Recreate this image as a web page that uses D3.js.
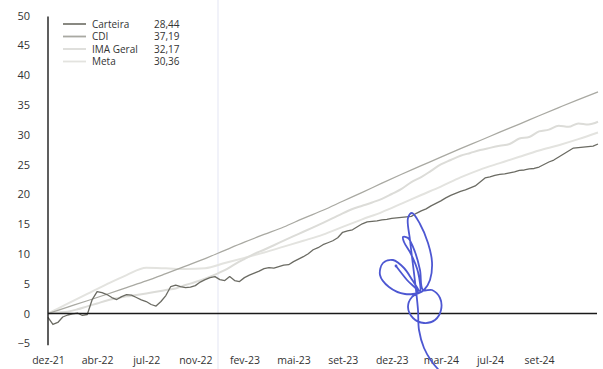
<!DOCTYPE html>
<html>
<head>
<meta charset="utf-8">
<script src="https://cdn.jsdelivr.net/npm/d3@7"></script>
<style>
  body { margin: 0; background: #fff; }
  svg text { font-family: "Open Sans", "Noto Sans", sans-serif; fill: #333; }
</style>
</head>
<body>
<svg id="chart" width="603" height="369"></svg>
<script>
// Accumulated return (%) since dez-21, sampled on a business-day index
const tickLabels = ["dez-21", "abr-22", "jul-22", "nov-22", "fev-23", "mai-23",
                    "set-23", "dez-23", "mar-24", "jul-24", "set-24"];
const yTicks = [-5, 0, 5, 10, 15, 20, 25, 30, 35, 40, 45, 50];

// Carteira: one value per index step
const carteira = [-0.67,-1.84,-1.5,-0.59,-0.25,-0.08,0.08,-0.33,-0.17,
  2.34,3.68,3.51,3.18,2.68,2.34,2.84,3.18,3.09,2.68,2.29,
  2.01,1.51,1.25,2.01,3.01,4.52,4.77,4.52,4.35,4.43,
  4.68,5.27,5.69,6.02,6.19,5.69,5.52,6.19,5.52,5.35,
  6.02,6.44,6.77,7.11,7.53,7.69,7.61,7.86,8.11,8.19,
  8.70,9.11,9.53,10.03,10.70,11.04,11.54,11.87,12.21,12.71,
  13.63,13.88,14.05,14.55,15.05,15.38,15.47,15.55,15.72,15.80,
  15.97,16.05,16.14,16.22,16.30,16.81,17.22,17.56,18.06,18.48,
  18.90,19.40,19.82,20.15,20.48,20.74,21.07,21.40,22.07,22.74,
  22.91,23.16,23.33,23.41,23.58,23.75,24.00,24.08,24.25,24.33,
  24.58,25.00,25.42,25.75,26.25,26.76,27.26,27.76,27.84,27.93,
  28.01,28.09,28.44];

// CDI and Meta: one value every 4 index steps
const cdi = [0,1.07,2.14,3.23,4.35,5.47,6.69,7.94,9.21,10.60,11.97,13.26,14.51,
  15.97,17.32,18.83,20.33,21.86,23.36,24.80,26.25,27.66,29.03,30.42,31.79,
  33.18,34.55,35.90,37.19];
const meta = [0,1.64,3.28,4.92,6.44,7.66,7.58,7.46,7.59,8.46,9.33,10.23,11.22,
  12.21,13.24,14.54,15.80,17.02,18.44,19.88,21.30,22.83,24.15,25.23,26.30,
  27.34,28.24,29.25,30.36];

// IMA Geral: one value every 2 index steps
const imaGeral = [0,0.15,0.30,0.70,1.20,1.69,2.19,2.56,2.88,3.09,3.36,3.65,3.93,
  4.21,4.77,5.28,5.85,6.52,7.26,8.23,9.13,10.00,10.70,11.45,12.22,12.98,13.71,
  14.46,15.22,16.00,16.81,17.53,18.08,18.63,19.23,20.05,20.90,22.04,22.88,23.93,
  25.02,25.75,26.47,26.94,27.42,27.79,28.14,28.45,29.35,29.62,30.55,30.85,31.50,
  31.32,31.90,31.72,32.17];

const seriesNames = ["Carteira", "CDI", "IMA Geral", "Meta"];
const seriesLast = ["28,44", "37,19", "32,17", "30,36"];
const seriesColors = ["#6b6b63", "#a9a9a2", "#dcdcd8", "#e3e3df"];

const svg = d3.select("#chart");

const x = d3.scaleLinear().domain([0, 112]).range([48, 598]);
const y = d3.scaleLinear().domain([-5, 50]).range([343.3, 15.5]);

// faint vertical guide
svg.append("line")
  .attr("x1", 218).attr("x2", 218).attr("y1", 0).attr("y2", 369)
  .attr("stroke", "#f1f2f9").attr("stroke-width", 2);

// y axis labels
const yAxis = d3.axisLeft(y).tickValues(yTicks).tickSize(0).tickPadding(18)
  .tickFormat(d3.format("d"));
const gy = svg.append("g").attr("transform", "translate(48,0)").call(yAxis);
gy.select(".domain").remove();
gy.selectAll("text").style("font-size", "11px").attr("fill", "#333");

// x axis labels
const xAxis = d3.axisBottom(x).tickValues(d3.range(0, 101, 10)).tickSize(0).tickPadding(0)
  .tickFormat((d, i) => tickLabels[i]);
const gx = svg.append("g").attr("transform", "translate(0,357)").call(xAxis);
gx.select(".domain").remove();
gx.selectAll("text").style("font-size", "10.5px").attr("fill", "#333");

// series lines
const lineOf = (step) => d3.line()
  .x((d, i) => x(i * step))
  .y(d => y(d));

const drawn = [
  { data: meta, step: 4, color: seriesColors[3], w: 2, curve: d3.curveMonotoneX },
  { data: imaGeral, step: 2, color: seriesColors[2], w: 2, curve: d3.curveMonotoneX },
  { data: cdi, step: 4, color: seriesColors[1], w: 1.3, curve: d3.curveMonotoneX },
  { data: carteira, step: 1, color: seriesColors[0], w: 1.3, curve: d3.curveLinear }
];
drawn.forEach(s => {
  svg.append("path")
    .datum(s.data)
    .attr("fill", "none")
    .attr("stroke", s.color)
    .attr("stroke-width", s.w)
    .attr("stroke-linejoin", "round")
    .attr("d", lineOf(s.step).curve(s.curve));
});

// axis lines
svg.append("line")
  .attr("x1", 48).attr("x2", 48).attr("y1", y(50) + 1).attr("y2", y(-5) + 2)
  .attr("stroke", "#1a1a1a").attr("stroke-width", 1.4);
svg.append("line")
  .attr("x1", 48).attr("x2", 597).attr("y1", y(0)).attr("y2", y(0))
  .attr("stroke", "#1a1a1a").attr("stroke-width", 1.4);

// legend
const legend = svg.append("g");
seriesNames.forEach((name, i) => {
  const ly = 24 + i * 12.5;
  legend.append("line")
    .attr("x1", 63).attr("x2", 86).attr("y1", ly).attr("y2", ly)
    .attr("stroke", seriesColors[i]).attr("stroke-width", i === 0 ? 1.6 : 1.8);
  legend.append("text").attr("x", 92).attr("y", ly).attr("dy", "0.35em")
    .style("font-size", "10px").text(name);
  legend.append("text").attr("x", 154).attr("y", ly).attr("dy", "0.35em")
    .style("font-size", "10px").text(seriesLast[i]);
});

// handwritten initials in blue ink
const inkStroke = [[396,266],[407,280],[418,292],[405,294],[389,287],[380,275],[383,263],
  [393,260],[404,268],[413,281],[420,291],[418,272],[411,254],[404,242],[403,237],
  [408,238],[415,252],[420,270],[423,290],[432,290],[440,298],[441,310],[435,320],
  [424,323],[413,318],[408,307],[412,297],[424,290],[430,280],[432,262],[428,243],
  [420,224],[412,213],[408,218],[410,240],[413,265],[416,290],[418,310],[419,330],
  [424,348],[432,362],[438,369]];
svg.append("path")
  .datum(inkStroke)
  .attr("fill", "none")
  .attr("stroke", "#4d57d2")
  .attr("stroke-width", 1.8)
  .attr("stroke-linecap", "round")
  .attr("d", d3.line().curve(d3.curveCatmullRom.alpha(0.5)));
svg.append("circle").attr("cx", 396).attr("cy", 266).attr("r", 1.4).attr("fill", "#4d57d2");
</script>
</body>
</html>
